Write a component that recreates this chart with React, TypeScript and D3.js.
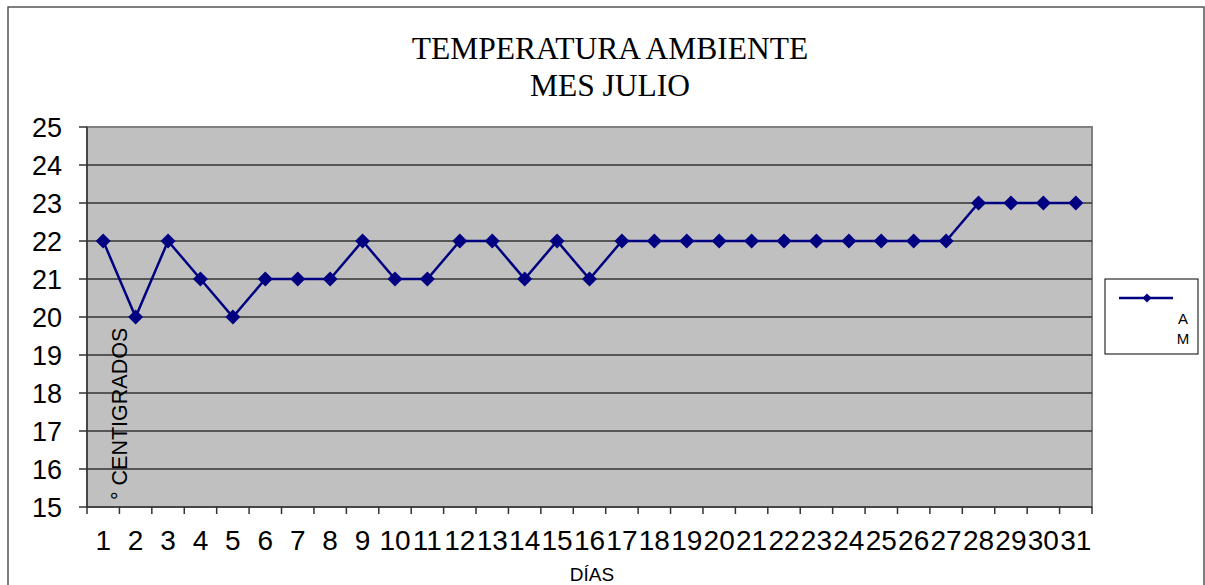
import * as d3 from "d3";

const dias = d3.range(1, 32).map(String);
const temperaturaAM = [
  22, 20, 22, 21, 20, 21, 21, 21, 22, 21, 21, 22, 22, 21, 22, 21, 22, 22, 22,
  22, 22, 22, 22, 22, 22, 22, 22, 23, 23, 23, 23,
];
const yTicks = [15, 16, 17, 18, 19, 20, 21, 22, 23, 24, 25];
const titleLines = ["TEMPERATURA AMBIENTE", "MES JULIO"];
const serieNombre = ["A", "M"];

const W = 1205;
const H = 585;
const plot = { left: 87, top: 127, right: 1092, bottom: 507 };
const NAVY = "#000080";

function Diamond({ x, y, r }: { x: number; y: number; r: number }) {
  return (
    <path
      d={`M${x},${y - r}L${x + r},${y}L${x},${y + r}L${x - r},${y}Z`}
      fill={NAVY}
    />
  );
}

export default function App() {
  const x = d3
    .scaleBand<string>()
    .domain(dias)
    .range([plot.left, plot.right])
    .padding(0);
  const y = d3.scaleLinear().domain([15, 25]).range([plot.bottom, plot.top]);
  const cx = (d: string) => (x(d) ?? 0) + x.bandwidth() / 2;

  const line = d3
    .line<number>()
    .x((_, i) => cx(dias[i]))
    .y((d) => y(d));

  const boundaries = dias.map((d) => x(d) ?? 0).concat([plot.right]);
  const font = "Arial, 'Liberation Sans', sans-serif";

  return (
    <svg
      width={W}
      height={H}
      style={{ position: "absolute", left: 0, top: 0 }}
    >
      <rect x={0} y={0} width={W} height={H} fill="#fff" />
      {/* outer frame */}
      <rect
        x={8}
        y={7}
        width={1196}
        height={600}
        fill="none"
        stroke="#555"
        strokeWidth={1.5}
      />

      {/* title */}
      {titleLines.map((t, i) => (
        <text
          key={t}
          x={610}
          y={59 + i * 37}
          textAnchor="middle"
          fontFamily="'Liberation Serif', 'Times New Roman', serif"
          fontSize={31.5}
          fill="#000"
        >
          {t}
        </text>
      ))}

      {/* plot area */}
      <rect
        x={plot.left}
        y={plot.top}
        width={plot.right - plot.left}
        height={plot.bottom - plot.top}
        fill="#c0c0c0"
        stroke="#808080"
        strokeWidth={2}
      />

      {/* grid lines */}
      {yTicks.slice(1, -1).map((t) => (
        <line
          key={t}
          x1={plot.left}
          x2={plot.right}
          y1={y(t)}
          y2={y(t)}
          stroke="#333"
          strokeWidth={1.6}
        />
      ))}

      {/* axes */}
      <line
        x1={plot.left}
        x2={plot.left}
        y1={plot.top}
        y2={plot.bottom}
        stroke="#333"
        strokeWidth={1.5}
      />
      <line
        x1={plot.left}
        x2={plot.right}
        y1={plot.bottom}
        y2={plot.bottom}
        stroke="#333"
        strokeWidth={1.5}
      />
      {yTicks.map((t) => (
        <g key={t}>
          <line
            x1={plot.left - 8}
            x2={plot.left}
            y1={y(t)}
            y2={y(t)}
            stroke="#333"
            strokeWidth={1.5}
          />
          <text
            x={62}
            y={y(t)}
            dy="0.36em"
            textAnchor="end"
            fontFamily={font}
            fontSize={27}
            fill="#000"
          >
            {t}
          </text>
        </g>
      ))}
      {boundaries.map((b, i) => (
        <line
          key={i}
          x1={b}
          x2={b}
          y1={plot.bottom}
          y2={plot.bottom + 7}
          stroke="#333"
          strokeWidth={1.5}
        />
      ))}
      {dias.map((d) => (
        <text
          key={d}
          x={cx(d)}
          y={550}
          textAnchor="middle"
          fontFamily={font}
          fontSize={28}
          fill="#000"
        >
          {d}
        </text>
      ))}

      {/* axis titles */}
      <text
        x={592}
        y={581}
        textAnchor="middle"
        fontFamily={font}
        fontSize={19}
        fill="#000"
      >
        DÍAS
      </text>
      <text
        transform={`translate(127,500) rotate(-90)`}
        fontFamily={font}
        fontSize={21.5}
        fill="#000"
      >
        ° CENTIGRADOS
      </text>

      {/* series */}
      <path
        d={line(temperaturaAM) ?? ""}
        fill="none"
        stroke={NAVY}
        strokeWidth={2.5}
      />
      {temperaturaAM.map((v, i) => (
        <Diamond key={i} x={cx(dias[i])} y={y(v)} r={7.5} />
      ))}

      {/* legend */}
      <rect
        x={1105}
        y={279}
        width={93}
        height={75}
        fill="#fff"
        stroke="#000"
        strokeWidth={1}
      />
      <line x1={1119} x2={1173} y1={298} y2={298} stroke={NAVY} strokeWidth={2.5} />
      <Diamond x={1147} y={298} r={4.5} />
      {serieNombre.map((s, i) => (
        <text
          key={s}
          x={1183}
          y={324 + i * 20}
          textAnchor="middle"
          fontFamily={font}
          fontSize={15}
          fill="#000"
        >
          {s}
        </text>
      ))}
    </svg>
  );
}
